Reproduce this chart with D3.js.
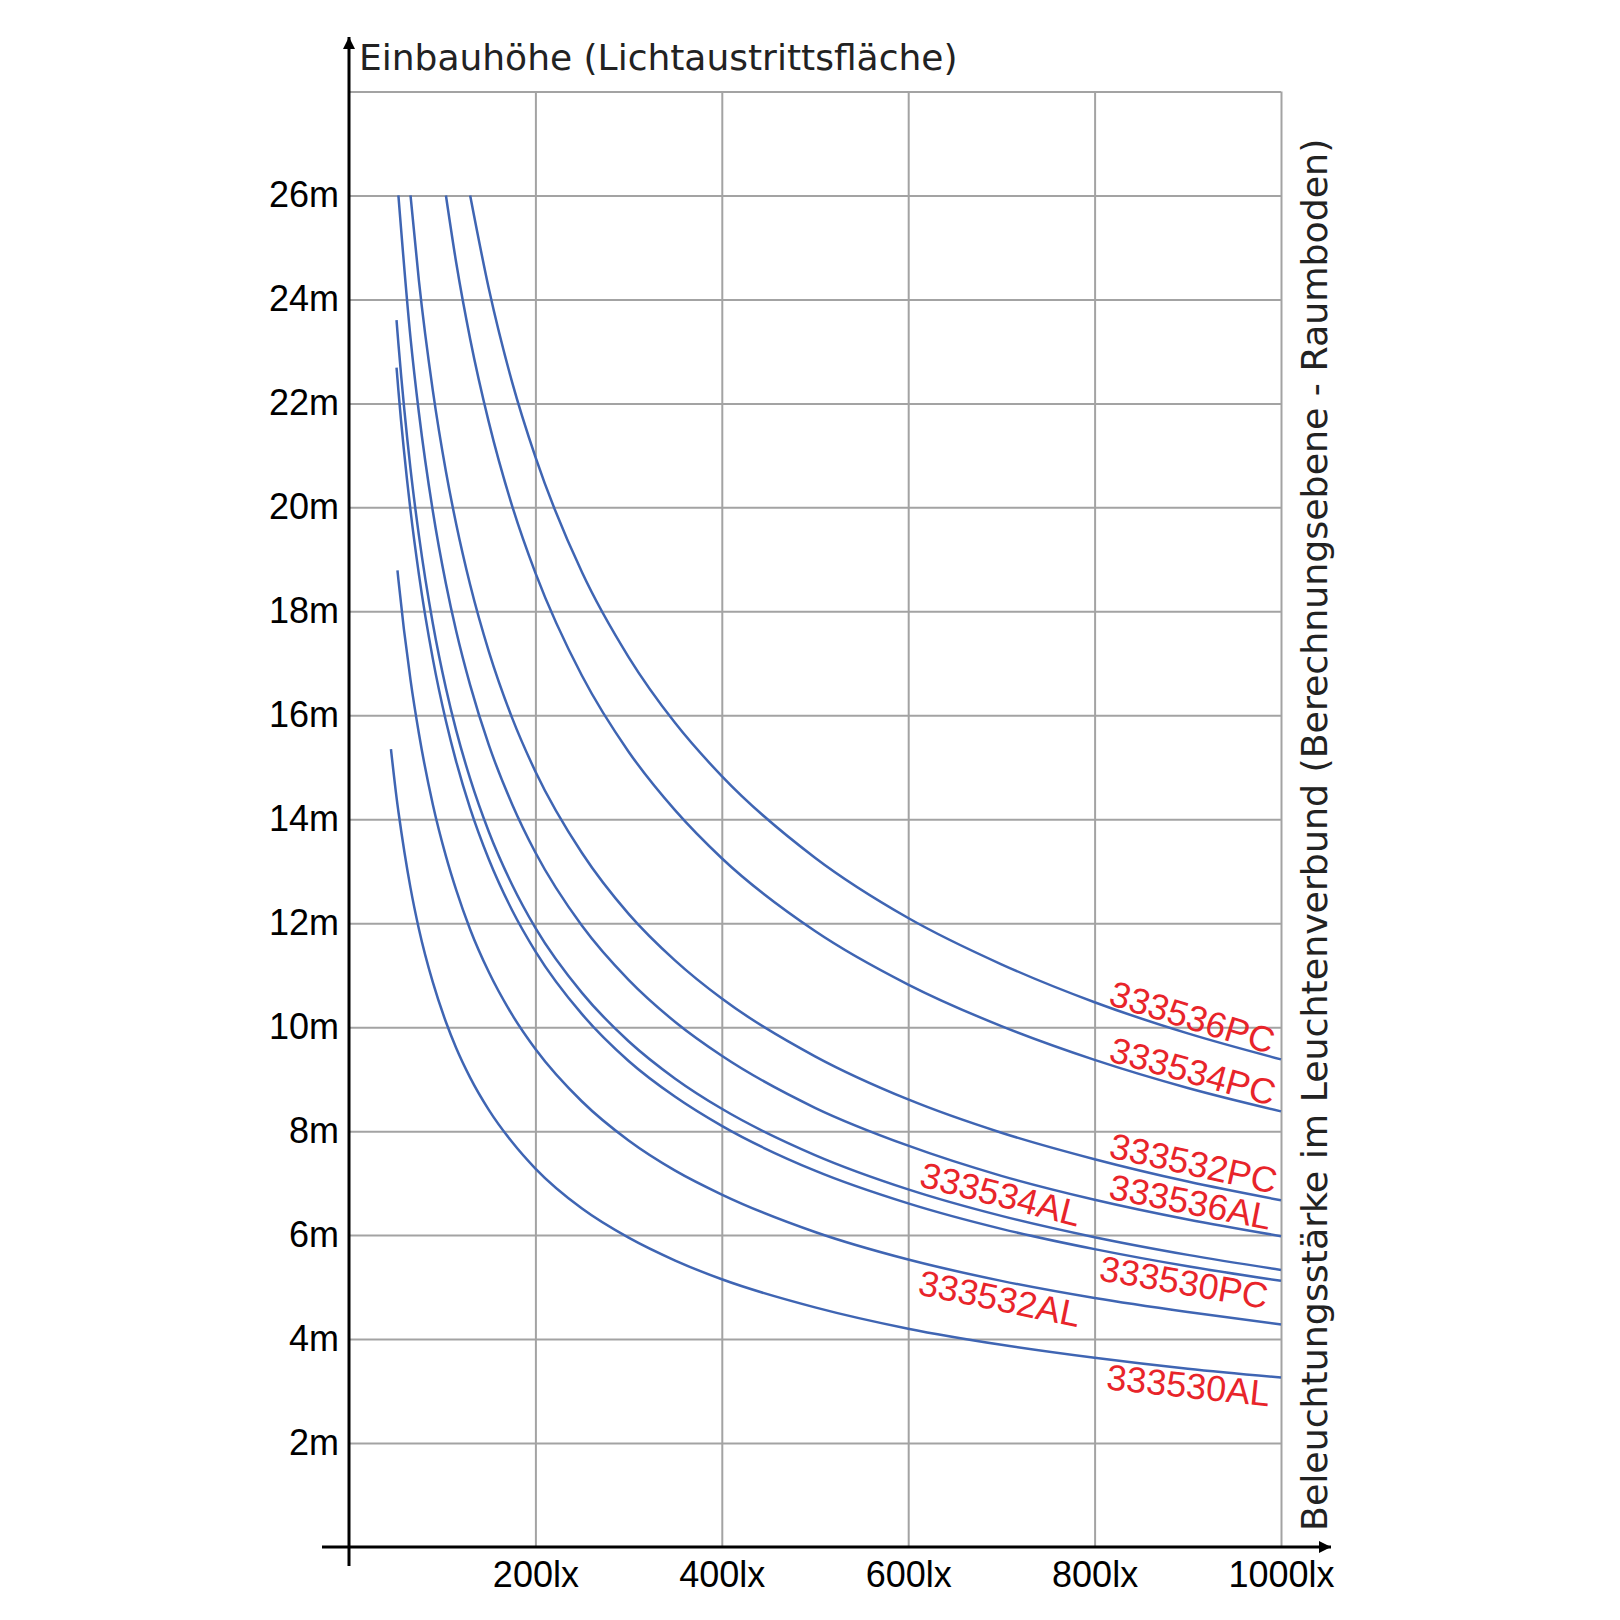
<!DOCTYPE html>
<html>
<head>
<meta charset="utf-8">
<script src="https://cdn.jsdelivr.net/npm/d3@7"></script>
<style>
  html, body { margin: 0; padding: 0; background: #fff; }
  svg { display: block; }
</style>
</head>
<body>
<div id="chart"></div>
<script>
// Illuminance grid (lx) the curves were read at
const lux = [45, 51, 52, 53, 66, 75, 90, 104, 115, 130, 150, 175, 200, 250, 300, 350, 400, 500, 600, 700, 800, 900, 1000];

// Mounting height (m) per luminaire (null = curve not drawn yet)
const h333536PC = [null, null, null, null, null, null, null, null, null, 26.0, 24.21, 22.41, 20.97, 18.75, 17.12, 15.85, 14.83, 13.26, 12.10, 11.21, 10.48, 9.88, 9.38];
const h333534PC = [null, null, null, null, null, null, null, 26.0, 24.71, 23.24, 21.64, 20.03, 18.74, 16.76, 15.30, 14.17, 13.25, 11.85, 10.82, 10.02, 9.37, 8.83, 8.38];
const h333532PC = [null, null, null, null, 26.0, 24.36, 22.24, 20.69, 19.68, 18.51, 17.23, 15.95, 14.92, 13.35, 12.18, 11.28, 10.55, 9.44, 8.61, 7.97, 7.46, 7.03, 6.67];
const h333536AL = [null, null, null, 26.0, 23.26, 21.82, 19.92, 18.53, 17.62, 16.58, 15.43, 14.29, 13.36, 11.95, 10.91, 10.10, 9.45, 8.45, 7.72, 7.14, 6.68, 6.30, 5.98];
const h333534AL = [null, 23.60, 23.37, 23.15, 20.74, 19.46, 17.76, 16.52, 15.71, 14.78, 13.76, 12.74, 11.91, 10.66, 9.73, 9.01, 8.43, 7.54, 6.88, 6.37, 5.96, 5.62, 5.33];
const h333530PC = [null, 22.69, 22.47, 22.25, 19.94, 18.71, 17.08, 15.89, 15.11, 14.21, 13.23, 12.25, 11.46, 10.25, 9.35, 8.66, 8.10, 7.24, 6.61, 6.12, 5.73, 5.40, 5.12];
const h333532AL = [null, null, 18.79, 18.61, 16.68, 15.65, 14.28, 13.29, 12.64, 11.88, 11.06, 10.24, 9.58, 8.57, 7.82, 7.24, 6.78, 6.06, 5.53, 5.12, 4.79, 4.52, 4.28];
const h333530AL = [15.35, 14.42, 14.28, 14.15, 12.68, 11.89, 10.86, 10.10, 9.60, 9.03, 8.41, 7.79, 7.28, 6.51, 5.95, 5.51, 5.15, 4.61, 4.20, 3.89, 3.64, 3.43, 3.26];

const seriesNames = ["333536PC", "333534PC", "333532PC", "333536AL", "333534AL", "333530PC", "333532AL", "333530AL"];
const seriesValues = [h333536PC, h333534PC, h333532PC, h333536AL, h333534AL, h333530PC, h333532AL, h333530AL];

// Axis ticks
const xTicks = [200, 400, 600, 800, 1000];
const xTickLabels = ["200lx", "400lx", "600lx", "800lx", "1000lx"];
const yTicks = [2, 4, 6, 8, 10, 12, 14, 16, 18, 20, 22, 24, 26];
const yTickLabels = ["2m", "4m", "6m", "8m", "10m", "12m", "14m", "16m", "18m", "20m", "22m", "24m", "26m"];

const yTitle = "Einbauhöhe (Lichtaustrittsfläche)";
const xTitle = "Beleuchtungsstärke im Leuchtenverbund (Berechnungsebene - Raumboden)";

// where each curve label starts (lx) and how far it sits off its curve (px)
const labelPlacement = {
  "333536PC": { at: 813, dy: -2 },
  "333534PC": { at: 813, dy: -3 },
  "333532PC": { at: 813, dy: -5 },
  "333536AL": { at: 813, dy: -4 },
  "333534AL": { at: 609, dy: -6 },
  "333530PC": { at: 809, dy: 30 },
  "333532AL": { at: 616, dy: 32 },
  "333530AL": { at: 815, dy: 30 }
};

const width = 1620, height = 1620;
const blue = "#3f65b3";
const red = "#e8242a";
const gridGrey = "#a3a3a3";
const sans = "'Liberation Sans', Arial, sans-serif";
const titleFont = "'DejaVu Sans', Verdana, sans-serif";

const x = d3.scaleLinear().domain([0, 1000]).range([349, 1281]);
const y = d3.scaleLinear().domain([0, 28]).range([1547, 91.5]);

const svg = d3.select("#chart").append("svg")
  .attr("width", width)
  .attr("height", height)
  .attr("viewBox", [0, 0, width, height]);

// Grid: horizontal lines
svg.append("g")
  .attr("transform", `translate(${x(0)},0)`)
  .call(d3.axisRight(y).tickValues(d3.range(2, 29, 2)).tickSize(x(1000) - x(0)).tickFormat(""))
  .call(g => g.select(".domain").remove())
  .call(g => g.selectAll("line").attr("stroke", gridGrey).attr("stroke-width", 2));

// Grid: vertical lines
svg.append("g")
  .attr("transform", `translate(0,${y(0)})`)
  .call(d3.axisTop(x).tickValues(xTicks).tickSize(y(0) - y(28)).tickFormat(""))
  .call(g => g.select(".domain").remove())
  .call(g => g.selectAll("line").attr("stroke", gridGrey).attr("stroke-width", 2));

// Tick labels
svg.append("g")
  .attr("transform", `translate(${x(0)},0)`)
  .call(d3.axisLeft(y).tickValues(yTicks).tickSize(0).tickPadding(10).tickFormat((d, i) => yTickLabels[i]))
  .call(g => g.select(".domain").remove())
  .call(g => g.selectAll("text")
    .attr("font-family", sans).attr("font-size", 36).attr("fill", "#000"));

svg.append("g")
  .attr("transform", `translate(0,${y(0)})`)
  .call(d3.axisBottom(x).tickValues(xTicks).tickSize(0).tickPadding(14).tickFormat((d, i) => xTickLabels[i]))
  .call(g => g.select(".domain").remove())
  .call(g => g.selectAll("text")
    .attr("font-family", sans).attr("font-size", 36).attr("fill", "#000"));

// Curves
const line = d3.line()
  .defined(d => d[1] != null)
  .x(d => x(d[0]))
  .y(d => y(d[1]))
  .curve(d3.curveMonotoneX);

seriesNames.forEach((name, i) => {
  const pts = lux.map((l, j) => [l, seriesValues[i][j]]).filter(d => d[1] != null);
  svg.append("path")
    .datum(pts)
    .attr("fill", "none")
    .attr("stroke", blue)
    .attr("stroke-width", 2.5)
    .attr("d", line);
});

// Curve labels, rotated along their curve
function heightAt(vals, l) {
  for (let j = 0; j < lux.length - 1; j++) {
    if (l >= lux[j] && l <= lux[j + 1] && vals[j] != null && vals[j + 1] != null) {
      const t = (l - lux[j]) / (lux[j + 1] - lux[j]);
      return vals[j] + t * (vals[j + 1] - vals[j]);
    }
  }
  return vals[vals.length - 1];
}

seriesNames.forEach((name, i) => {
  const p = labelPlacement[name];
  const vals = seriesValues[i];
  const l0 = p.at, l1 = Math.min(1000, p.at + 180);
  const x0 = x(l0), y0 = y(heightAt(vals, l0));
  const x1 = x(l1), y1 = y(heightAt(vals, l1));
  const angle = Math.atan2(y1 - y0, x1 - x0) * 180 / Math.PI;
  svg.append("text")
    .attr("transform", `translate(${x0},${y0}) rotate(${angle}) translate(0,${p.dy})`)
    .attr("font-family", sans)
    .attr("font-size", 36)
    .attr("fill", red)
    .text(name);
});

// Axes with arrows
svg.append("defs").append("marker")
  .attr("id", "arrow")
  .attr("viewBox", "0 0 10 10")
  .attr("refX", 10).attr("refY", 5)
  .attr("markerWidth", 4).attr("markerHeight", 4)
  .attr("markerUnits", "strokeWidth")
  .attr("orient", "auto")
  .append("path")
  .attr("d", "M0,0 L10,5 L0,10 z")
  .attr("fill", "#000");

svg.append("line")
  .attr("x1", x(0)).attr("y1", 1566)
  .attr("x2", x(0)).attr("y2", 37)
  .attr("stroke", "#000").attr("stroke-width", 3)
  .attr("marker-end", "url(#arrow)");

svg.append("line")
  .attr("x1", 322).attr("y1", y(0))
  .attr("x2", 1331).attr("y2", y(0))
  .attr("stroke", "#000").attr("stroke-width", 3)
  .attr("marker-end", "url(#arrow)");

// Axis titles
svg.append("text")
  .attr("x", 359)
  .attr("y", 70)
  .attr("font-family", titleFont)
  .attr("font-size", 36)
  .attr("fill", "#222")
  .text(yTitle);

svg.append("text")
  .attr("transform", "translate(1327,1531) rotate(-90)")
  .attr("font-family", titleFont)
  .attr("font-size", 36.3)
  .attr("fill", "#222")
  .text(xTitle);
</script>
</body>
</html>
